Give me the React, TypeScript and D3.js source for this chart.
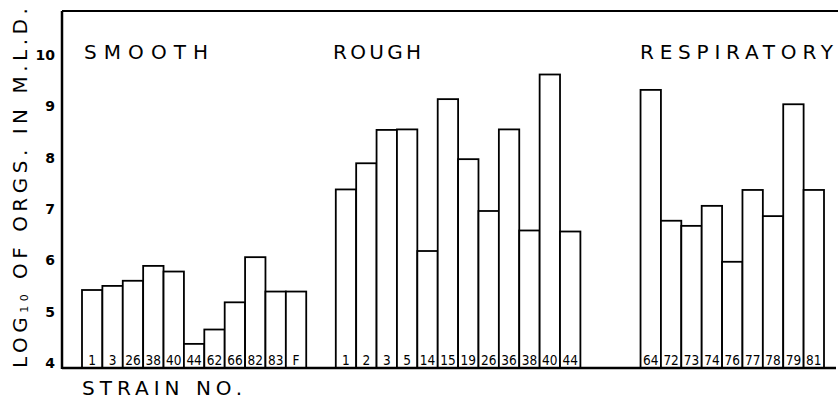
import React from 'react';
import * as d3 from 'd3';

const smoothStrains = ['1', '3', '26', '38', '40', '44', '62', '66', '82', '83', 'F'];
const smoothValues = [5.42, 5.5, 5.6, 5.89, 5.78, 4.37, 4.65, 5.18, 6.06, 5.39, 5.39];

const roughStrains = ['1', '2', '3', '5', '14', '15', '19', '26', '36', '38', '40', '44'];
const roughValues = [7.38, 7.89, 8.54, 8.55, 6.18, 9.14, 7.97, 6.96, 8.55, 6.58, 9.62, 6.56];

const respStrains = ['64', '72', '73', '74', '76', '77', '78', '79', '81'];
const respValues = [9.32, 6.77, 6.67, 7.06, 5.97, 7.37, 6.86, 9.04, 7.37];

const groupNames = ['SMOOTH', 'ROUGH', 'RESPIRATORY'];
const yTicks = [4, 5, 6, 7, 8, 9, 10];

const W = 838;
const H = 402;
const FONT = 'DejaVu Sans, sans-serif';

// gap before each group, in bar widths
const GAPS = [0, 1.45, 2.95];
// group title placement (left x, stretched width)
const LABEL_X = [84, 333, 640];
const LABEL_LEN = [124, 88, 193];

export default function App() {
  const groups = [
    { name: groupNames[0], strains: smoothStrains, values: smoothValues },
    { name: groupNames[1], strains: roughStrains, values: roughValues },
    { name: groupNames[2], strains: respStrains, values: respValues },
  ];

  let slot = 0;
  const bars: { key: string; strain: string; value: number; slot: number }[] = [];
  groups.forEach((g, gi) => {
    slot += GAPS[gi];
    g.strains.forEach((s, i) => {
      bars.push({ key: `${gi}-${s}`, strain: s, value: g.values[i], slot });
      slot += 1;
    });
  });

  const x = d3.scaleLinear().domain([0, slot]).range([82, 824]);
  const y = d3.scaleLinear().domain([3.9, 10]).range([368, 55]);
  const bw = x(1) - x(0);

  const axisX = 62;
  const topY = 11;
  const base = y(3.9);

  return (
    <svg width={W} height={H} style={{ position: 'absolute', left: 0, top: 0, background: '#fff' }}>
      {/* frame */}
      <line x1={axisX} x2={W} y1={topY} y2={topY} stroke="#000" strokeWidth={2} />
      <line x1={axisX} x2={axisX} y1={topY} y2={base + 1} stroke="#000" strokeWidth={2.5} />

      {bars.map((b) => (
        <g key={b.key}>
          <rect
            x={x(b.slot)}
            y={y(b.value)}
            width={bw}
            height={base - y(b.value)}
            fill="#fff"
            stroke="#000"
            strokeWidth={1.8}
          />
          <text
            x={x(b.slot + 0.5)}
            y={base - 3.5}
            textAnchor="middle"
            fontFamily="DejaVu Sans Condensed, DejaVu Sans, sans-serif"
            fontStretch="condensed"
            fontSize={13.5}
            fill="#000"
          >
            {b.strain}
          </text>
        </g>
      ))}

      <line x1={axisX} x2={836} y1={base} y2={base} stroke="#000" strokeWidth={2.5} />

      {yTicks.map((t) => (
        <text
          key={t}
          x={55}
          y={y(t)}
          dy="0.36em"
          textAnchor="end"
          fontFamily={FONT}
          fontWeight="bold"
          fontSize={14}
          fill="#000"
        >
          {t}
        </text>
      ))}

      {groups.map((g, gi) => (
        <text
          key={g.name}
          x={LABEL_X[gi]}
          y={59}
          fontFamily={FONT}
          fontSize={20}
          textLength={LABEL_LEN[gi]}
          lengthAdjust="spacing"
          fill="#000"
        >
          {g.name}
        </text>
      ))}

      <text x={82} y={395} fontFamily={FONT} fontSize={20} letterSpacing={5} fill="#000">
        STRAIN NO.
      </text>

      <text
        transform={`translate(27,${base}) rotate(-90)`}
        fontFamily={FONT}
        fontSize={20}
        letterSpacing={4.5}
        fill="#000"
      >
        LOG
        <tspan fontSize={11} dy={1}>
          10
        </tspan>
        <tspan dy={-1}> OF ORGS. IN M.L.D.</tspan>
      </text>
    </svg>
  );
}
